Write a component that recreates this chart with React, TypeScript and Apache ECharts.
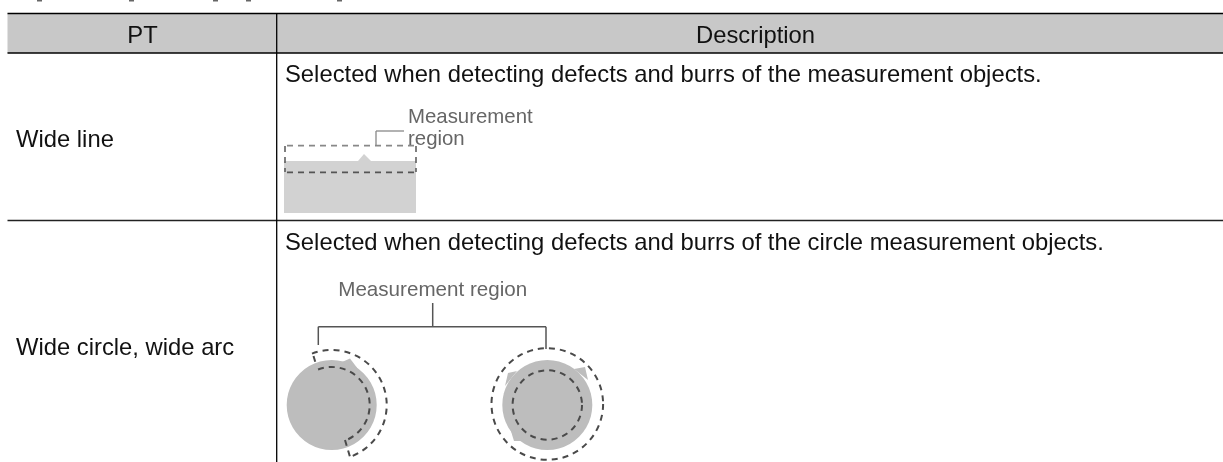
import React, { useEffect, useRef } from "react";
import * as echarts from "echarts";

const headers = ["PT", "Description"];
const rowLabels = ["Wide line", "Wide circle, wide arc"];
const rowDescriptions = [
  "Selected when detecting defects and burrs of the measurement objects.",
  "Selected when detecting defects and burrs of the circle measurement objects.",
];
const calloutLine = ["Measurement", "region"];
const calloutCircle = "Measurement region";
const clippedCaptionMarks = [37, 129, 213, 246, 337];

const W = 1223;
const H = 462;
const FONT = '"Liberation Sans", Arial, sans-serif';
const BLACK = "#000";
const DASH = "#4a4a4a";
const GREY = "#bdbdbd";
const SOFT = { shadowBlur: 1.5, shadowColor: "rgba(90,90,90,0.55)" };

const ln = (x1: number, y1: number, x2: number, y2: number, stroke = BLACK, lineWidth = 1.3, lineDash?: number[]) => ({
  type: "line",
  shape: { x1, y1, x2, y2 },
  style: { stroke, lineWidth, lineDash },
});
const txt = (text: string, x: number, y: number, fontSize = 23.8, fill = "#111", align = "left", extra = {}) => ({
  type: "text",
  x,
  y,
  style: { text, x: 0, y: 0, fill, font: `${fontSize}px ${FONT}`, textAlign: align, textVerticalAlign: "middle", ...extra },
});
const arc = (cx: number, cy: number, r: number, a: number, b: number) => ({
  type: "arc",
  shape: { cx, cy, r, startAngle: (a * Math.PI) / 180, endAngle: (b * Math.PI) / 180, clockwise: true },
  style: { stroke: DASH, lineWidth: 2, lineDash: [6, 5], fill: "none" },
});
const burr = (pts: number[][]) => ({ type: "polygon", shape: { points: pts }, style: { fill: GREY } });
const dashed = (x1: number, y1: number, x2: number, y2: number, stroke = DASH, w = 2) => ln(x1, y1, x2, y2, stroke, w, [6, 5]);

const elements: any[] = [
  ...clippedCaptionMarks.map((x) => ({
    type: "rect",
    shape: { x, y: 0, width: 5, height: 1.5 },
    style: { fill: "#666" },
  })),
  { type: "rect", shape: { x: 7.5, y: 13.5, width: W - 7.5, height: 39.5 }, style: { fill: "#c8c8c8" } },
  ln(7.5, 13.5, W, 13.5),
  ln(7.5, 53, W, 53),
  ln(7.5, 220.5, W, 220.5, "#222"),
  ln(276.7, 13.5, 276.7, 462),
  txt(headers[0], 142.5, 34.5, 23.8, "#111", "center"),
  txt(headers[1], 755.5, 34.5, 23.8, "#111", "center"),
  txt(rowLabels[0], 16, 138),
  txt(rowLabels[1], 16, 346.5),
  txt(rowDescriptions[0], 285, 73.5),
  txt(rowDescriptions[1], 285, 241),

  // Wide line illustration
  { type: "rect", shape: { x: 284, y: 161, width: 132, height: 52 }, style: { fill: "#d2d2d2" } },
  { type: "polygon", shape: { points: [[358, 161], [364, 154], [371, 161]] }, style: { fill: "#d2d2d2" } },
  dashed(287, 145.7, 416, 145.7, "#888", 1.8),
  dashed(287, 172.3, 416, 172.3, "#555", 1.8),
  dashed(285, 146, 285, 172, "#555", 1.5),
  dashed(416, 146, 416, 172, "#555", 1.5),
  ln(376, 131, 376, 146, "#888", 1.3),
  ln(376, 131, 404, 131, "#888", 1.3),
  txt(calloutLine[0], 408, 116, 20.4, "#666", "left", SOFT),
  txt(calloutLine[1], 408, 137.5, 20.4, "#666", "left", SOFT),

  // Left circle
  { type: "circle", shape: { cx: 331.7, cy: 405, r: 45 }, style: { fill: GREY } },
  burr([[342, 362], [350, 358.5], [358, 369]]),
  arc(331.7, 405, 55, -111, 70),
  arc(331.7, 405, 38, -111, 67),
  dashed(313.5, 356, 316.5, 366),
  dashed(345, 440, 350, 457),

  // Right circle
  { type: "circle", shape: { cx: 547.3, cy: 405, r: 45 }, style: { fill: GREY } },
  burr([[574, 369], [585, 367], [588, 380]]),
  burr([[505, 386], [508, 373], [517, 371]]),
  burr([[510, 428], [514, 441], [526, 441]]),
  { type: "circle", shape: { cx: 547.3, cy: 404, r: 55.8 }, style: { fill: "none", stroke: DASH, lineWidth: 2, lineDash: [6, 5] } },
  { type: "circle", shape: { cx: 547.3, cy: 405, r: 34.7 }, style: { fill: "none", stroke: DASH, lineWidth: 2, lineDash: [6, 5] } },

  // Bracket
  ln(432.7, 303, 432.7, 326.7, "#555", 1.5),
  ln(318.3, 326.7, 546, 326.7, "#555", 1.5),
  ln(318.3, 326.7, 318.3, 345, "#555", 1.5),
  ln(546, 326.7, 546, 349, "#555", 1.5),
  txt(calloutCircle, 432.7, 288, 20.6, "#666", "center", SOFT),
];

export default function App() {
  const ref = useRef<HTMLDivElement>(null);
  useEffect(() => {
    const chart = echarts.init(ref.current!, undefined, { renderer: "svg" });
    chart.setOption({ animation: false, graphic: { elements } });
    return () => chart.dispose();
  }, []);
  return <div ref={ref} style={{ position: "fixed", left: 0, top: 0, width: W, height: H }} />;
}
